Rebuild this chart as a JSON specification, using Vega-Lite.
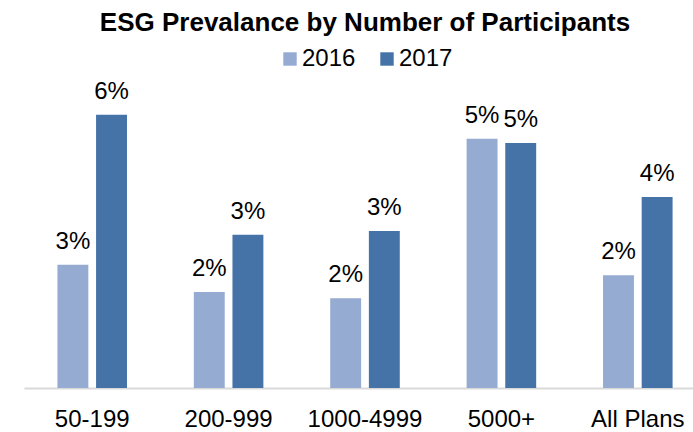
{
  "$schema": "https://vega.github.io/schema/vega-lite/v6.json",
  "width": 682,
  "height": 308,
  "autosize": {"type": "none"},
  "padding": {"left": 24, "top": 80, "right": 0, "bottom": 44},
  "background": "white",
  "title": {
    "text": "ESG Prevalance by Number of Participants",
    "font": "Liberation Sans",
    "fontSize": 26,
    "fontWeight": "bold",
    "color": "#000000",
    "anchor": "middle",
    "offset": 11
  },
  "data": {
    "values": [
      {"group": "50-199", "year": "2016", "value": 0.0262},
      {"group": "50-199", "year": "2017", "value": 0.0581},
      {"group": "200-999", "year": "2016", "value": 0.0204},
      {"group": "200-999", "year": "2017", "value": 0.0326},
      {"group": "1000-4999", "year": "2016", "value": 0.0191},
      {"group": "1000-4999", "year": "2017", "value": 0.0334},
      {"group": "5000+", "year": "2016", "value": 0.0530},
      {"group": "5000+", "year": "2017", "value": 0.0521},
      {"group": "All Plans", "year": "2016", "value": 0.0240},
      {"group": "All Plans", "year": "2017", "value": 0.0406}
    ]
  },
  "encoding": {
    "x": {
      "field": "group",
      "type": "nominal",
      "sort": null,
      "scale": {"paddingInner": 0.49, "paddingOuter": 0.245},
      "axis": {
        "title": null,
        "labelAngle": 0,
        "labelFont": "Liberation Sans",
        "labelFontSize": 24,
        "labelColor": "#000000",
        "labelPadding": 19,
        "ticks": false,
        "domainColor": "#D9D9D9",
        "domainWidth": 2
      }
    },
    "xOffset": {
      "field": "year",
      "type": "nominal",
      "scale": {"paddingInner": 0.2, "paddingOuter": 0}
    },
    "y": {
      "field": "value",
      "type": "quantitative",
      "scale": {"domain": [0, 0.0655]},
      "axis": null
    }
  },
  "layer": [
    {
      "mark": {"type": "bar"},
      "encoding": {
        "color": {
          "field": "year",
          "type": "nominal",
          "scale": {"domain": ["2016", "2017"], "range": ["#95ABD2", "#4573A7"]},
          "legend": {
            "title": null,
            "orient": "top",
            "direction": "horizontal",
            "symbolType": "square",
            "symbolSize": 180,
            "symbolStrokeWidth": 0,
            "labelFont": "Liberation Sans",
            "labelFontSize": 24,
            "labelColor": "#000000",
            "columnPadding": 19,
            "labelOffset": 0,
            "offset": 9
          }
        }
      }
    },
    {
      "mark": {
        "type": "text",
        "baseline": "alphabetic",
        "dy": -16,
        "font": "Liberation Sans",
        "fontSize": 24,
        "color": "#000000"
      },
      "encoding": {
        "text": {"field": "value", "type": "quantitative", "format": ".0%"}
      }
    }
  ],
  "config": {
    "view": {"stroke": null},
    "legend": {"layout": {"top": {"anchor": "middle"}}}
  }
}
